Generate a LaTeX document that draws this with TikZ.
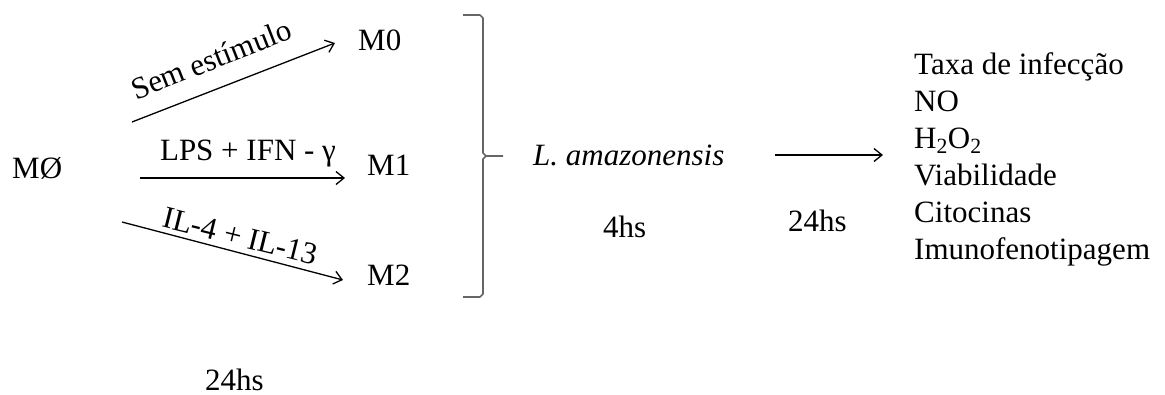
\documentclass[tikz,border=0pt]{standalone}
\usepackage{fontspec}
\setmainfont{Liberation Serif}
\usetikzlibrary{arrows.meta}
\begin{document}
\begin{tikzpicture}[x=1pt,y=-1pt,
  txt/.style={anchor=base west, inner sep=0pt, font=\fontsize{31}{37}\selectfont},
  lab/.style={anchor=base, inner sep=0pt, font=\fontsize{31}{37}\selectfont},
  conn/.style={-{Straight Barb[length=8pt,width=13pt]}, line width=1.3pt},
  bracestyle/.style={draw=black!60, line width=1.6pt, line join=round}]
\useasboundingbox (0,0) rectangle (1165,394);
% left column
\node[txt] (m) at (12,178) {MØ};
\node[txt] (m0) at (358,50) {M0};
\node[txt] (m1) at (367,175) {M1};
\node[txt] (m2) at (367,285) {M2};
\coordinate (a0s) at (132,122);
\coordinate (a0e) at (335,43);
\coordinate (a1s) at (140,178);
\coordinate (a1e) at (345,178);
\coordinate (a2s) at (122,222);
\coordinate (a2e) at (343,280);
\draw[conn] (a0s) -- (a0e);
\draw[conn] (a1s) -- (a1e);
\draw[conn] (a2s) -- (a2e);
\node[lab, rotate=21.5] (l0) at (215,69) {Sem estímulo};
\node[lab] (l1) at (248,160) {LPS + IFN - γ};
\node[lab, rotate=-14] (l2) at (238,246) {IL-4 + IL-13};
\node[txt] (t24a) at (205,390) {24hs};
% brace
\path[bracestyle] (463,15) -- (480,15) -- (483,18) -- (483,153) -- (486,156) -- (503,156)
  (486,156) -- (483,159) -- (483,294) -- (480,297) -- (463,297);
% middle
\node[txt] (la) at (533,165) {\itshape L. amazonensis};
\node[txt] (t4) at (603,237) {4hs};
\node[txt] (t24b) at (788,231) {24hs};
\coordinate (a3s) at (775,155);
\coordinate (a3e) at (883,155);
\draw[conn] (a3s) -- (a3e);
% right list
\node[txt] (r1) at (914,74) {Taxa de infecção};
\node[txt] (r2) at (914,111) {NO};
\node[txt] (r3) at (914,148) {H\textsubscript{2}O\textsubscript{2}};
\node[txt] (r4) at (914,185) {Viabilidade};
\node[txt] (r5) at (914,222) {Citocinas};
\node[txt] (r6) at (914,259) {Imunofenotipagem};
\end{tikzpicture}
\end{document}
